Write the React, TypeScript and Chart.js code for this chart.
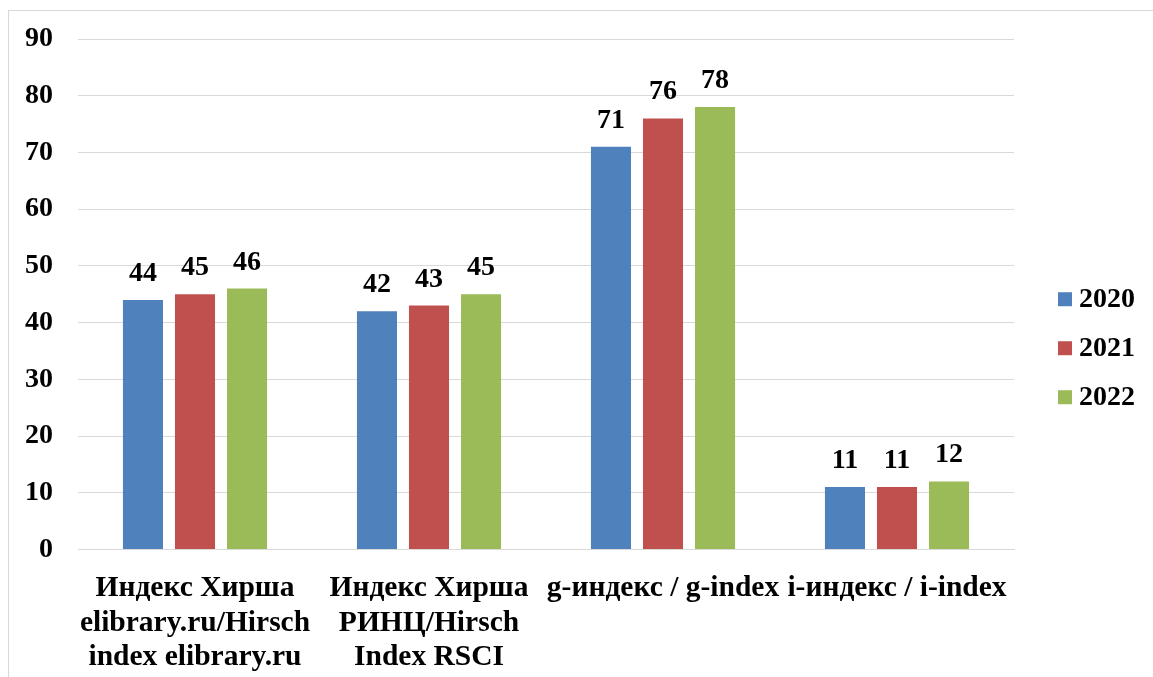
import React, { useEffect, useRef } from "react";
import { Chart, registerables } from "chart.js";

Chart.register(...registerables);

const categories: (string | string[])[] = [
  ["Индекс Хирша", "elibrary.ru/Hirsch", "index elibrary.ru"],
  ["Индекс Хирша", "РИНЦ/Hirsch", "Index RSCI"],
  "g-индекс / g-index",
  "i-индекс / i-index",
];
const seriesNames = ["2020", "2021", "2022"];
const values2020 = [44, 42, 71, 11];
const values2021 = [45, 43, 76, 11];
const values2022 = [46, 45, 78, 12];
const colors = ["#4f81bd", "#c0504d", "#9bbb59"];

const FONT = "'Liberation Serif', 'Times New Roman', serif";

const valueLabels = {
  id: "valueLabels",
  afterDatasetsDraw(chart: any) {
    const ctx = chart.ctx;
    ctx.save();
    ctx.font = `bold 28px ${FONT}`;
    ctx.fillStyle = "#000";
    ctx.textAlign = "center";
    ctx.textBaseline = "alphabetic";
    chart.data.datasets.forEach((ds: any, i: number) => {
      const meta = chart.getDatasetMeta(i);
      meta.data.forEach((bar: any, j: number) => {
        ctx.fillText(String(ds.data[j]), bar.x, bar.y - 19);
      });
    });
    ctx.restore();
  },
};

const sideLegend = {
  id: "sideLegend",
  afterDraw(chart: any) {
    const ctx = chart.ctx;
    const area = chart.chartArea;
    const x = area.right + 44;
    const cy = (area.top + area.bottom) / 2 + 54;
    const step = 49;
    const n = chart.data.datasets.length;
    ctx.save();
    ctx.font = `bold 28px ${FONT}`;
    ctx.textAlign = "left";
    ctx.textBaseline = "middle";
    chart.data.datasets.forEach((ds: any, i: number) => {
      const y = cy + (i - (n - 1) / 2) * step;
      ctx.fillStyle = ds.backgroundColor;
      ctx.fillRect(x, y - 7, 14, 14);
      ctx.fillStyle = "#000";
      ctx.fillText(ds.label, x + 21, y + 1);
    });
    ctx.restore();
  },
};

export default function App() {
  const ref = useRef<HTMLCanvasElement>(null);
  useEffect(() => {
    document.body.style.overflow = "hidden";
    const chart = new Chart(ref.current!, {
      type: "bar",
      data: {
        labels: categories,
        datasets: [values2020, values2021, values2022].map((d, i) => ({
          label: seriesNames[i],
          data: d,
          backgroundColor: colors[i],
          barPercentage: 0.77,
          categoryPercentage: 0.667,
        })),
      },
      options: {
        animation: false,
        responsive: true,
        maintainAspectRatio: false,
        layout: { padding: { left: 16, top: 28, right: 143, bottom: 0 } },
        plugins: {
          tooltip: { enabled: false },
          legend: { display: false },
        },
        scales: {
          x: {
            grid: { display: false },
            border: { color: "#d9d9d9" },
            afterFit: (scale: any) => {
              scale.paddingLeft = 0;
              scale.paddingRight = 0;
            },
            ticks: {
              color: "#000",
              autoSkip: false,
              maxRotation: 0,
              minRotation: 0,
              padding: 14,
              font: { family: FONT, size: 29.5, weight: "bold", lineHeight: 1.17 },
            },
          },
          y: {
            min: 0,
            max: 90,
            afterFit: (scale: any) => {
              scale.width = 53;
              scale.paddingTop = 0;
              scale.paddingBottom = 0;
            },
            ticks: {
              stepSize: 10,
              color: "#000",
              padding: 25,
              font: { family: FONT, size: 28, weight: "bold" },
            },
            grid: { color: "#d9d9d9", drawTicks: false },
            border: { display: false },
          },
        },
      },
      plugins: [valueLabels, sideLegend],
    } as any);
    return () => chart.destroy();
  }, []);
  return (
    <div
      style={{
        position: "absolute",
        left: 8,
        top: 10,
        width: 1150,
        height: 680,
        border: "1px solid #d9d9d9",
        boxSizing: "border-box",
      }}
    >
      <canvas ref={ref} />
    </div>
  );
}
